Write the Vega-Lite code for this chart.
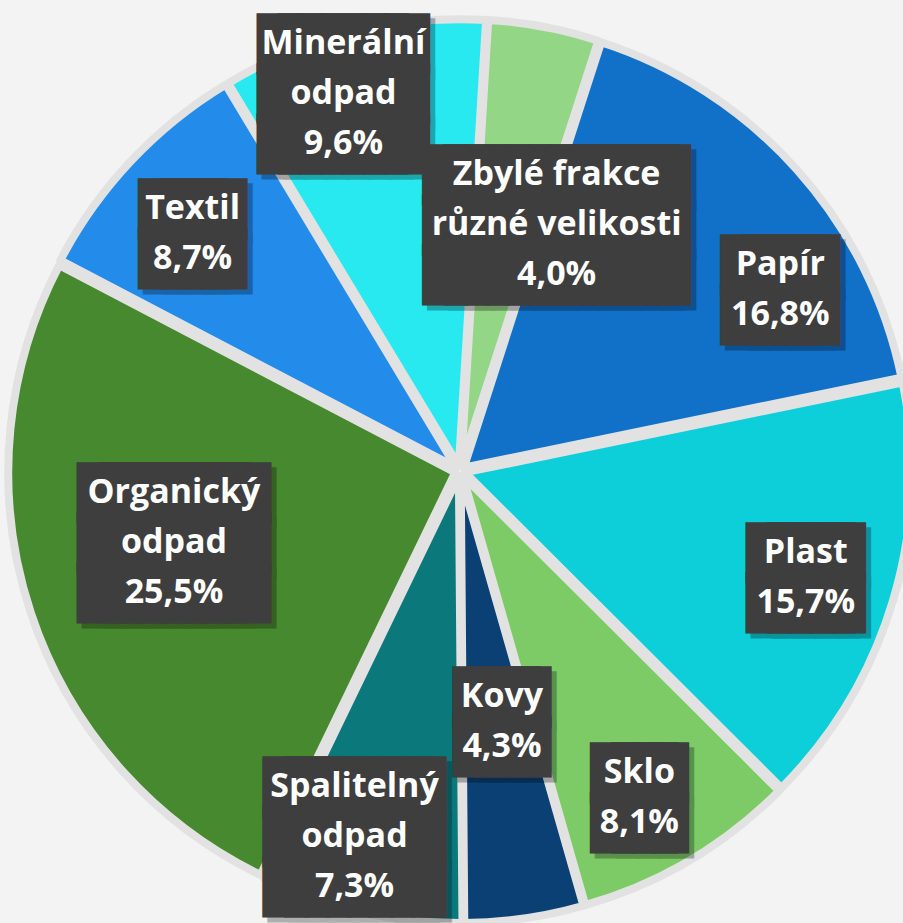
{
  "$schema": "https://vega.github.io/schema/vega-lite/v6.json",
  "width": 886,
  "height": 904,
  "autosize": {"type": "none"},
  "padding": {"left": 17, "top": 19, "right": 0, "bottom": 0},
  "background": "#f3f3f3",
  "config": {"view": {"stroke": null}},
  "data": {
    "values": [
      {"category": "Zbylé frakce různé velikosti", "value": 4.0, "order": 1, "lines": ["Zbylé frakce", "různé velikosti", "4,0%"]},
      {"category": "Papír", "value": 16.8, "order": 2, "lines": ["Papír", "16,8%"]},
      {"category": "Plast", "value": 15.7, "order": 3, "lines": ["Plast", "15,7%"]},
      {"category": "Sklo", "value": 8.1, "order": 4, "lines": ["Sklo", "8,1%"]},
      {"category": "Kovy", "value": 4.3, "order": 5, "lines": ["Kovy", "4,3%"]},
      {"category": "Spalitelný odpad", "value": 7.3, "order": 6, "lines": ["Spalitelný", "odpad", "7,3%"]},
      {"category": "Organický odpad", "value": 25.5, "order": 7, "lines": ["Organický", "odpad", "25,5%"]},
      {"category": "Textil", "value": 8.7, "order": 8, "lines": ["Textil", "8,7%"]},
      {"category": "Minerální odpad", "value": 9.6, "order": 9, "lines": ["Minerální", "odpad", "9,6%"]}
    ]
  },
  "transform": [
    {"calculate": "datum.lines[0]", "as": "l0"},
    {"calculate": "datum.lines[1]", "as": "l1"},
    {"calculate": "length(datum.lines) > 2 ? datum.lines[2] : ''", "as": "l2"},
    {"calculate": "0.6*length(datum.l0) - 0.3*(length(datum.l0) - length(replace(datum.l0, regexp('[ilíj, ]', 'g'), ''))) - 0.16*(length(datum.l0) - length(replace(datum.l0, regexp('[trf]', 'g'), ''))) + 0.3*(length(datum.l0) - length(replace(datum.l0, regexp('[MO%]', 'g'), '')))", "as": "w0"},
    {"calculate": "0.6*length(datum.l1) - 0.3*(length(datum.l1) - length(replace(datum.l1, regexp('[ilíj, ]', 'g'), ''))) - 0.16*(length(datum.l1) - length(replace(datum.l1, regexp('[trf]', 'g'), ''))) + 0.3*(length(datum.l1) - length(replace(datum.l1, regexp('[MO%]', 'g'), '')))", "as": "w1"},
    {"calculate": "0.6*length(datum.l2) - 0.3*(length(datum.l2) - length(replace(datum.l2, regexp('[ilíj, ]', 'g'), ''))) - 0.16*(length(datum.l2) - length(replace(datum.l2, regexp('[trf]', 'g'), ''))) + 0.3*(length(datum.l2) - length(replace(datum.l2, regexp('[MO%]', 'g'), '')))", "as": "w2"},
    {"calculate": "round((max(datum.w0, datum.w1, datum.w2)*34 + 18 - 25)/10.6)", "as": "m"},
    {"calculate": "pad('', floor(datum.m/2), '█') + (datum.m % 2 == 1 ? '▌' : '')", "as": "row"},
    {"calculate": "slice([datum.row, datum.row, datum.row], 0, length(datum.lines))", "as": "box"}
  ],
  "encoding": {
    "theta": {"field": "value", "type": "quantitative", "stack": true, "scale": {"range": [0.0611, 6.3443]}},
    "order": {"field": "order", "type": "quantitative"}
  },
  "layer": [
    {
      "mark": {"type": "arc", "outerRadius": 447, "stroke": "#e2e2e2", "strokeWidth": 8, "strokeJoin": "round",
        "x": {"expr": "width/2 + 5*sin((scale('theta', datum.value_start) + scale('theta', datum.value_end))/2)"},
        "y": {"expr": "height/2 - 5*cos((scale('theta', datum.value_start) + scale('theta', datum.value_end))/2)"}},
      "encoding": {
        "color": {
          "field": "category", "type": "nominal", "legend": null,
          "scale": {
            "domain": ["Zbylé frakce různé velikosti", "Papír", "Plast", "Sklo", "Kovy", "Spalitelný odpad", "Organický odpad", "Textil", "Minerální odpad"],
            "range": ["#93d685", "#1170c8", "#0dcfd9", "#7dcb66", "#0a4073", "#0b797c", "#47892e", "#238ceb", "#28e9f0"]
          }
        }
      }
    },
    {
      "mark": {"type": "text", "font": "Liberation Sans", "fontSize": 30, "lineHeight": 50, "align": "center", "baseline": "middle", "fill": "#000000", "stroke": "#000000", "strokeWidth": 25, "strokeJoin": "miter", "opacity": 0.28,
        "dx": {"expr": "(datum.m % 2 == 1 ? 5.3 : 0) + 5"},
        "dy": {"expr": "-(length(datum.lines)-1)*25 + 5"},
        "radius": {"expr": "[264,368,362,373,254,381,295,357,395][datum.order-1]"},
        "thetaOffset": {"expr": "[0.188,0.216,0.010,0.031,-0.023,0.059,0.072,-0.031,-0.059][datum.order-1]"}},
      "encoding": {"text": {"field": "box", "type": "nominal"}}
    },
    {
      "mark": {"type": "text", "font": "Liberation Sans", "fontSize": 30, "lineHeight": 50, "align": "center", "baseline": "middle", "fill": "#3e3e3e", "stroke": "#3e3e3e", "strokeWidth": 25, "strokeJoin": "miter",
        "dx": {"expr": "datum.m % 2 == 1 ? 5.3 : 0"},
        "dy": {"expr": "-(length(datum.lines)-1)*25"},
        "radius": {"expr": "[264,368,362,373,254,381,295,357,395][datum.order-1]"},
        "thetaOffset": {"expr": "[0.188,0.216,0.010,0.031,-0.023,0.059,0.072,-0.031,-0.059][datum.order-1]"}},
      "encoding": {"text": {"field": "box", "type": "nominal"}}
    },
    {
      "mark": {"type": "text", "font": "Open Sans", "fontWeight": "bold", "fontSize": 34, "lineHeight": 50, "align": "center", "baseline": "middle", "fill": "white",
        "dy": {"expr": "-(length(datum.lines)-1)*25"},
        "radius": {"expr": "[264,368,362,373,254,381,295,357,395][datum.order-1]"},
        "thetaOffset": {"expr": "[0.188,0.216,0.010,0.031,-0.023,0.059,0.072,-0.031,-0.059][datum.order-1]"}},
      "encoding": {"text": {"field": "lines", "type": "nominal"}}
    }
  ]
}
